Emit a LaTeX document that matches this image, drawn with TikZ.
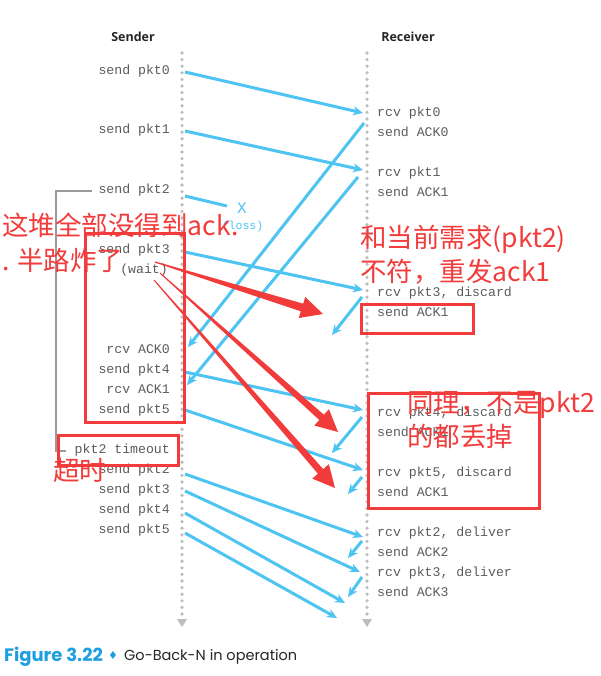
\documentclass[tikz,border=0pt]{standalone}
\usepackage{fontspec}
\setmainfont{Liberation Serif}
\newfontfamily\monof{Liberation Mono}
\newfontfamily\headf{Open Sans}
\newfontfamily\cjk{Noto Sans CJK SC}
\newfontfamily\capf{Poppins}
\newfontfamily\djv{DejaVu Sans}
\usetikzlibrary{arrows.meta,calc}
\definecolor{pktblue}{HTML}{4DC4F2}
\definecolor{capblue}{HTML}{1E9FE0}
\definecolor{annred}{HTML}{F23B3B}
\definecolor{txtgray}{HTML}{5C5C5C}
\definecolor{dotgray}{HTML}{BDBDBD}
\definecolor{brgray}{HTML}{9A9A9A}
\newcommand\redarr[6]{%
  \coordinate (#1h) at ($(#2)!#5!(#1)$);
  \fill[annred] ($(#1)!#6!90:(#2)$) -- ($(#1h)!#3!90:(#2)$) -- ($(#1h)!#4!90:(#2)$) -- (#2) -- ($(#1h)!#4!-90:(#2)$) -- ($(#1h)!#3!-90:(#2)$) -- ($(#1)!#6!-90:(#2)$) -- cycle;}
\begin{document}
\begin{tikzpicture}[x=1pt,y=-1pt,
 sl/.style={anchor=mid east, inner sep=0pt, text=txtgray, font=\monof\fontsize{13.2}{15}\selectfont},
 rl/.style={anchor=mid west, inner sep=0pt, text=txtgray, font=\monof\fontsize{13.2}{15}\selectfont},
 hdr/.style={font=\headf\bfseries\fontsize{12.5}{14}\selectfont, text=black!85, inner sep=0pt},
 pkt/.style={pktblue, line width=3pt, -{Stealth[length=10pt,width=9pt]}},
 lane/.style={dotgray, line width=3.6pt, line cap=round, dash pattern=on 0pt off 6.6pt},
 redbox/.style={annred, line width=3pt},
 note/.style={anchor=base west, inner sep=0pt, text=annred, font=\cjk\fontsize{26.5}{30}\selectfont},
]
\fill[white] (0,0) rectangle (601,676);
\useasboundingbox (0,0) rectangle (601,676);

% headers
\node[hdr] (snd) at (133,37) {Sender};
\node[hdr] (rcv) at (408,37) {Receiver};

% lanes
\coordinate (sl0) at (182,53); \coordinate (sl1) at (182,614);
\coordinate (rl0) at (367,53); \coordinate (rl1) at (367,614);
\draw[lane] (sl0) -- (sl1);
\draw[lane] (rl0) -- (rl1);
\fill[dotgray] (177,619) -- (187,619) -- (182,627) -- cycle;
\fill[dotgray] (362,619) -- (372,619) -- (367,627) -- cycle;

% timeout bracket
\coordinate (b0) at (92,191); \coordinate (b1) at (56,191);
\coordinate (b2) at (56,451); \coordinate (b3) at (66,451);
\draw[brgray, line width=1.2pt] (b0) -- (b1) -- (b2) -- (b3);

% sender labels
\node[sl] (s0) at (170,72) {send pkt0};
\node[sl] (s1) at (170,131) {send pkt1};
\node[sl] (s2) at (170,191) {send pkt2};
\node[sl] (s3) at (170,251) {send pkt3};
\node[sl] (sw) at (168,271) {(wait)};
\node[sl] (sa0) at (170,351) {rcv ACK0};
\node[sl] (s4) at (170,371) {send pkt4};
\node[sl] (sa1) at (170,391) {rcv ACK1};
\node[sl] (s5) at (170,411) {send pkt5};
\node[sl] (sto) at (170,451) {pkt2 timeout};
\node[sl] (s2r) at (170,471) {send pkt2};
\node[sl] (s3r) at (170,491) {send pkt3};
\node[sl] (s4r) at (170,511) {send pkt4};
\node[sl] (s5r) at (170,531) {send pkt5};

% receiver labels
\node[rl] (r0) at (377,114) {rcv pkt0};
\node[rl] (ra0) at (377,134) {send ACK0};
\node[rl] (r1) at (377,174) {rcv pkt1};
\node[rl] (ra1) at (377,194) {send ACK1};
\node[rl] (r3) at (377,294) {rcv pkt3, discard};
\node[rl] (ra1b) at (377,314) {send ACK1};
\node[rl] (r4) at (377,414) {rcv pkt4, discard};
\node[rl] (ra1c) at (377,434) {send ACK1};
\node[rl] (r5) at (377,474) {rcv pkt5, discard};
\node[rl] (ra1d) at (377,494) {send ACK1};
\node[rl] (r2d) at (377,534) {rcv pkt2, deliver};
\node[rl] (ra2) at (377,554) {send ACK2};
\node[rl] (r3d) at (377,574) {rcv pkt3, deliver};
\node[rl] (ra3) at (377,594) {send ACK3};

% loss marker
\node[inner sep=0pt, text=pktblue, font=\monof\fontsize{16}{18}\selectfont] (xl) at (242,208) {X};
\node[inner sep=0pt, text=pktblue, font=\monof\fontsize{11.5}{13}\selectfont] (loss) at (242.5,227) {(loss)};

% blue arrows
\coordinate (p0a) at (185,72);  \coordinate (p0b) at (363,113);
\coordinate (p1a) at (185,131); \coordinate (p1b) at (363,170);
\coordinate (p2a) at (185,196); \coordinate (p2b) at (227,206);
\coordinate (k0a) at (364,123); \coordinate (k0b) at (188,347);
\coordinate (k1a) at (358,177); \coordinate (k1b) at (187,385);
\coordinate (p3a) at (185,252); \coordinate (p3b) at (363,290);
\coordinate (k2a) at (362,297); \coordinate (k2b) at (332,335);
\coordinate (p4a) at (185,372); \coordinate (p4b) at (363,410);
\coordinate (k3a) at (362,417); \coordinate (k3b) at (332,453);
\coordinate (p5a) at (185,410); \coordinate (p5b) at (363,470);
\coordinate (k4a) at (362,477); \coordinate (k4b) at (348,494);
\coordinate (q2a) at (185,474); \coordinate (q2b) at (363,537);
\coordinate (k5a) at (362,541); \coordinate (k5b) at (348,558);
\coordinate (q3a) at (185,491); \coordinate (q3b) at (360,572);
\coordinate (k6a) at (362,577); \coordinate (k6b) at (348,597);
\coordinate (q4a) at (185,513); \coordinate (q4b) at (345,603);
\coordinate (q5a) at (185,533); \coordinate (q5b) at (337,618);
\draw[pkt] (p0a) -- (p0b);
\draw[pkt] (p1a) -- (p1b);
\draw[pktblue, line width=3pt] (p2a) -- (p2b);
\draw[pkt] (k0a) -- (k0b);
\draw[pkt] (k1a) -- (k1b);
\draw[pkt] (p3a) -- (p3b);
\draw[pkt] (k2a) -- (k2b);
\draw[pkt] (p4a) -- (p4b);
\draw[pkt] (k3a) -- (k3b);
\draw[pkt] (p5a) -- (p5b);
\draw[pkt] (k4a) -- (k4b);
\draw[pkt] (q2a) -- (q2b);
\draw[pkt] (k5a) -- (k5b);
\draw[pkt] (q3a) -- (q3b);
\draw[pkt] (k6a) -- (k6b);
\draw[pkt] (q4a) -- (q4b);
\draw[pkt] (q5a) -- (q5b);

% red boxes
\draw[redbox] (85,233) rectangle (184,422);
\draw[redbox] (58,435) rectangle (178,465);
\draw[redbox] (361,304) rectangle (473,333);
\draw[redbox] (368,393) rectangle (539,508);

% red arrows
\coordinate (ra) at (155,262); \coordinate (rat) at (323,314);
\coordinate (rb) at (160,273); \coordinate (rbt) at (338,432);
\coordinate (rc) at (154,280); \coordinate (rct) at (335,488);
\redarr{ra}{rat}{4pt}{11pt}{22pt}{0.6pt}
\redarr{rb}{rbt}{3.5pt}{11pt}{22pt}{0.5pt}
\redarr{rc}{rct}{3.5pt}{11pt}{22pt}{0.5pt}

% red notes
\node[note] (n1a) at (2,235) {这堆全部没得到ack.};
\node[note] (n1b) at (2,270) {. 半路炸了};
\node[note] (n2a) at (360,247.5) {和当前需求(pkt2)};
\node[note] (n2b) at (360,281) {不符，重发ack1};
\node[note] (n3a) at (407,412) {同理，不是pkt2};
\node[note] (n3b) at (407,446) {的都丢掉};
\node[note] (n4) at (53,480) {超时};

% caption
\node[anchor=base west, inner sep=0pt, font=\capf\bfseries\fontsize{18}{20}\selectfont, text=capblue] (fig) at (4,661) {Figure 3.22};
\node[inner sep=0pt, font=\djv\fontsize{11}{12}\selectfont, text=capblue] (dia) at (113,655) {♦};
\node[anchor=base west, inner sep=0pt, font=\capf\fontsize{14.5}{17}\selectfont, text=black!85] (capt) at (124,660) {Go-Back-N in operation};
\end{tikzpicture}
\end{document}
